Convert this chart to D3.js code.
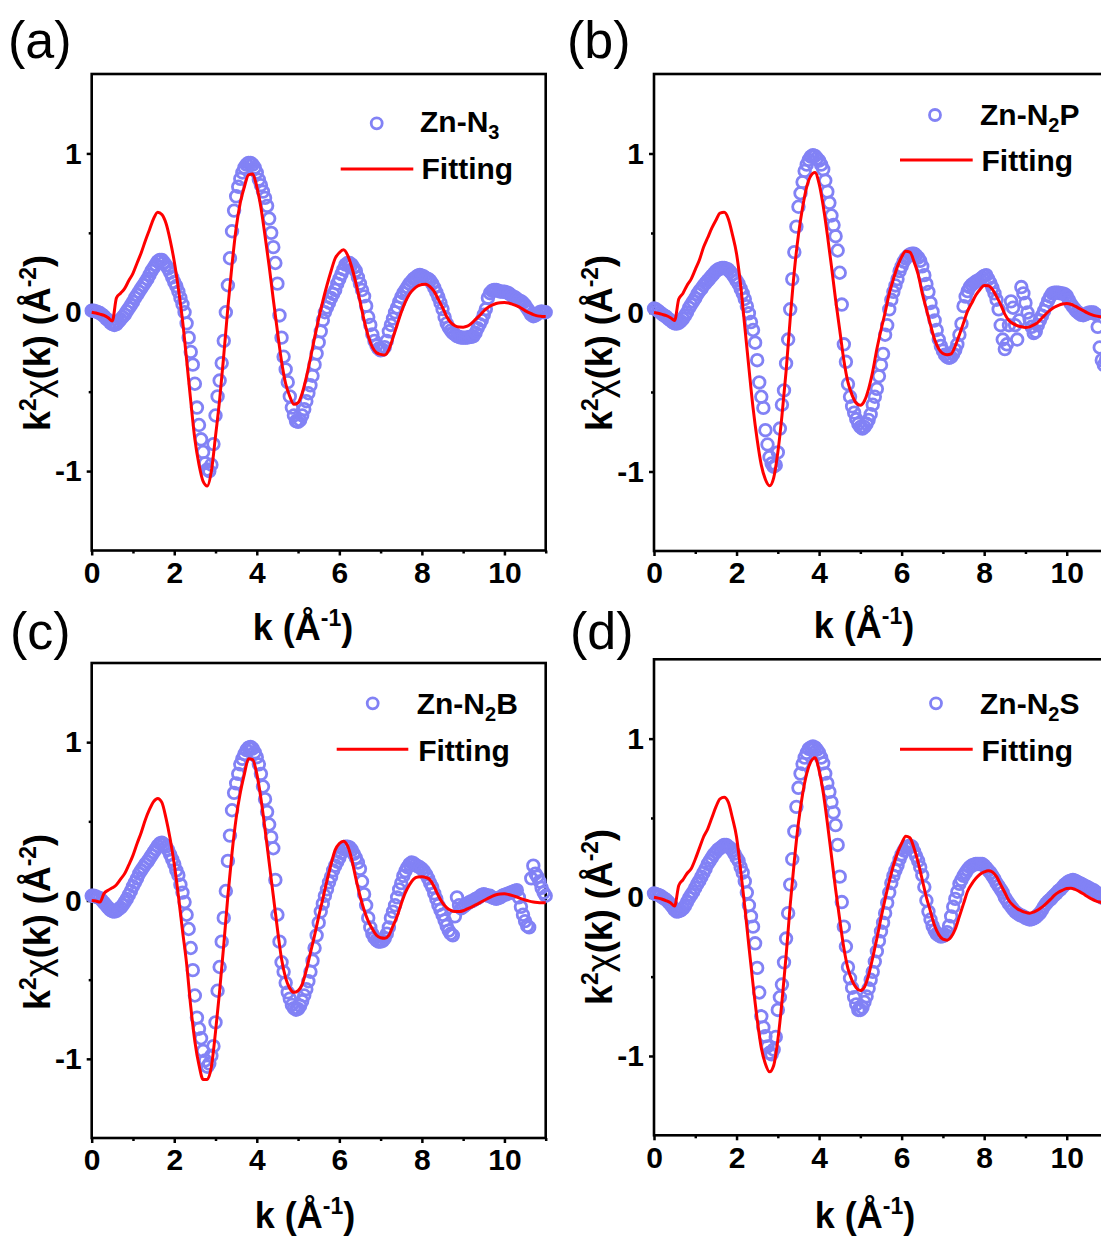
<!DOCTYPE html>
<html><head><meta charset="utf-8">
<script src="https://cdn.jsdelivr.net/npm/d3@7"></script>
<style>body{margin:0;background:#fff}svg{display:block}</style>
</head><body>
<script>
// ---------- DATA ----------
// experimental k grid: 0..11 step 0.05 ; fit grid: 0..11 step 0.1
const kExp = d3.range(221).map(i => +(i * 0.05).toFixed(2));
const kFit = d3.range(111).map(i => +(i * 0.1).toFixed(1));

const xTicks = [0, 2, 4, 6, 8, 10];
const xMinor = [1, 3, 5, 7, 9, 11];
const yTicks = [-1, 0, 1];
const yMinor = [-0.5, 0.5];

const zn_n3_exp = [
0.01,0.01,0.005,0,-0.005,-0.015,-0.025,-0.04,-0.05,-0.065,-0.075,-0.08,-0.075,-0.06,-0.045,-0.03,-0.015,0.005,0.025,0.045,
0.065,0.09,0.11,0.13,0.15,0.17,0.19,0.21,0.235,0.26,0.28,0.30,0.32,0.33,0.33,0.315,0.295,0.275,0.25,0.22,
0.19,0.165,0.13,0.09,0.05,0,-0.07,-0.16,-0.25,-0.33,-0.45,-0.60,-0.71,-0.80,-0.88,-0.95,-0.99,-1.0,-0.96,-0.83,
-0.65,-0.53,-0.43,-0.32,-0.18,0,0.17,0.34,0.51,0.64,0.73,0.79,0.84,0.88,0.91,0.93,0.94,0.94,0.93,0.91,
0.88,0.835,0.80,0.76,0.72,0.67,0.59,0.50,0.41,0.31,0.18,-0.02,-0.16,-0.28,-0.36,-0.44,-0.53,-0.60,-0.65,-0.685,
-0.69,-0.68,-0.65,-0.61,-0.56,-0.51,-0.46,-0.40,-0.33,-0.26,-0.19,-0.12,-0.05,0,0.03,0.06,0.09,0.115,0.14,0.18,
0.21,0.24,0.27,0.30,0.31,0.31,0.30,0.28,0.26,0.22,0.18,0.14,0.10,0.04,-0.03,-0.08,-0.14,-0.18,-0.21,-0.23,
-0.24,-0.235,-0.22,-0.18,-0.12,-0.08,-0.04,0,0.03,0.065,0.095,0.12,0.14,0.16,0.18,0.195,0.21,0.22,0.23,0.235,
0.23,0.225,0.215,0.21,0.20,0.18,0.155,0.125,0.095,0.06,0.02,-0.03,-0.07,-0.095,-0.115,-0.13,-0.14,-0.15,-0.155,-0.16,
-0.16,-0.16,-0.16,-0.155,-0.155,-0.15,-0.13,-0.10,-0.075,-0.05,-0.015,0.02,0.09,0.12,0.135,0.14,0.14,0.135,0.13,0.13,
0.13,0.125,0.12,0.11,0.10,0.095,0.085,0.075,0.07,0.06,0.045,0.025,0.005,-0.015,-0.025,-0.02,-0.01,0,0.005,0,
0];
const zn_n3_fit = [
0,-0.005,-0.012,-0.02,-0.035,-0.055,0.09,0.12,0.15,0.2,
0.245,0.31,0.375,0.45,0.52,0.59,0.63,0.615,0.56,0.455,
0.32,0.15,-0.05,-0.30,-0.56,-0.80,-0.96,-1.065,-1.094,-1.0,
-0.78,-0.55,-0.27,0.03,0.30,0.53,0.69,0.79,0.865,0.87,
0.79,0.66,0.48,0.29,0.08,-0.12,-0.31,-0.45,-0.53,-0.58,
-0.57,-0.51,-0.41,-0.29,-0.16,-0.04,0.07,0.17,0.26,0.34,
0.375,0.393,0.36,0.285,0.185,0.07,-0.05,-0.15,-0.22,-0.255,
-0.265,-0.269,-0.235,-0.16,-0.08,0,0.065,0.115,0.145,0.165,
0.175,0.177,0.16,0.13,0.08,0.03,-0.027,-0.065,-0.085,-0.093,
-0.094,-0.088,-0.07,-0.045,-0.02,0.008,0.03,0.045,0.055,0.06,
0.061,0.058,0.05,0.04,0.027,0.01,-0.003,-0.015,-0.023,-0.026,
-0.027];

const zn_n2p_exp = [
0.025,0.02,0.01,0,-0.01,-0.02,-0.027,-0.04,-0.05,-0.06,-0.068,-0.07,-0.065,-0.055,-0.04,-0.02,0,0.03,0.05,0.07,
0.09,0.115,0.135,0.15,0.17,0.185,0.2,0.215,0.23,0.245,0.26,0.27,0.275,0.28,0.28,0.275,0.27,0.255,0.24,0.22,
0.2,0.18,0.15,0.12,0.085,0.04,-0.005,-0.06,-0.11,-0.19,-0.30,-0.44,-0.53,-0.60,-0.74,-0.83,-0.91,-0.95,-0.97,-0.96,
-0.88,-0.73,-0.58,-0.49,-0.32,-0.17,0.02,0.21,0.38,0.54,0.665,0.75,0.82,0.89,0.93,0.96,0.98,0.99,0.985,0.97,
0.955,0.93,0.90,0.83,0.76,0.69,0.61,0.55,0.48,0.39,0.25,0.05,-0.2,-0.31,-0.45,-0.53,-0.59,-0.63,-0.67,-0.70,
-0.72,-0.73,-0.72,-0.70,-0.675,-0.64,-0.58,-0.53,-0.48,-0.40,-0.33,-0.26,-0.14,-0.08,0.02,0.08,0.13,0.17,0.21,0.26,
0.29,0.32,0.34,0.355,0.365,0.37,0.37,0.36,0.345,0.325,0.29,0.235,0.18,0.13,0.06,0.005,-0.05,-0.11,-0.17,-0.21,
-0.24,-0.265,-0.28,-0.285,-0.28,-0.26,-0.235,-0.2,-0.14,-0.07,0.04,0.1,0.135,0.16,0.175,0.185,0.195,0.2,0.21,0.22,
0.23,0.235,0.21,0.185,0.155,0.12,0.08,0.02,-0.08,-0.17,-0.23,-0.2,-0.08,0.07,0.03,-0.08,-0.17,-0.05,0.16,0.12,
0.06,0,-0.04,-0.09,-0.13,-0.12,-0.08,-0.05,-0.02,0.01,0.04,0.075,0.1,0.12,0.125,0.125,0.125,0.12,0.12,0.115,
0.105,0.08,0.055,0.036,0.02,0.005,-0.005,-0.015,-0.017,-0.012,-0.005,0,0,0,-0.01,-0.09,-0.22,-0.3,-0.33,-0.3,
-0.25];
const zn_n2p_fit = [
0,-0.005,-0.012,-0.02,-0.033,-0.05,0.085,0.12,0.17,0.21,
0.27,0.33,0.41,0.47,0.53,0.58,0.625,0.63,0.59,0.49,
0.37,0.17,-0.09,-0.35,-0.60,-0.80,-0.96,-1.05,-1.09,-1.04,
-0.88,-0.65,-0.37,-0.04,0.26,0.49,0.66,0.79,0.86,0.88,
0.81,0.67,0.49,0.29,0.08,-0.11,-0.30,-0.44,-0.52,-0.57,
-0.584,-0.555,-0.48,-0.37,-0.23,-0.11,0,0.12,0.21,0.29,
0.35,0.385,0.38,0.32,0.24,0.12,0.02,-0.08,-0.17,-0.23,
-0.258,-0.266,-0.26,-0.21,-0.14,-0.065,0.01,0.06,0.11,0.145,
0.17,0.168,0.145,0.1,0.05,-0.01,-0.05,-0.07,-0.082,-0.09,
-0.094,-0.09,-0.078,-0.062,-0.035,-0.008,0.015,0.033,0.045,0.053,
0.057,0.052,0.04,0.026,0.012,-0.002,-0.013,-0.021,-0.026,-0.03,
-0.032];

const zn_n2b_exp = [
0.03,0.03,0.025,0.02,0.015,0,-0.015,-0.03,-0.045,-0.06,-0.068,-0.07,-0.065,-0.055,-0.045,-0.03,-0.01,0.01,0.035,0.06,
0.09,0.115,0.14,0.17,0.19,0.21,0.23,0.245,0.265,0.285,0.305,0.325,0.345,0.36,0.365,0.355,0.34,0.32,0.29,0.26,
0.23,0.19,0.16,0.10,0.05,-0.01,-0.09,-0.18,-0.30,-0.44,-0.60,-0.74,-0.81,-0.87,-0.95,-1.01,-1.05,-1.03,-0.98,-0.92,
-0.77,-0.57,-0.42,-0.26,-0.11,0.06,0.25,0.41,0.57,0.68,0.74,0.80,0.86,0.895,0.925,0.95,0.965,0.97,0.96,0.935,
0.905,0.86,0.80,0.72,0.64,0.56,0.48,0.40,0.33,0.13,-0.09,-0.26,-0.39,-0.45,-0.52,-0.58,-0.62,-0.66,-0.68,-0.69,
-0.685,-0.665,-0.635,-0.60,-0.56,-0.51,-0.45,-0.38,-0.30,-0.22,-0.14,-0.07,-0.02,0.03,0.07,0.115,0.15,0.19,0.22,0.245,
0.27,0.30,0.325,0.34,0.34,0.335,0.32,0.295,0.27,0.24,0.20,0.12,0.04,-0.03,-0.11,-0.17,-0.21,-0.235,-0.25,-0.26,
-0.26,-0.255,-0.24,-0.21,-0.17,-0.11,-0.07,-0.03,0.02,0.07,0.11,0.155,0.185,0.21,0.23,0.24,0.235,0.225,0.215,0.21,
0.20,0.185,0.165,0.14,0.11,0.085,0.045,0.01,-0.03,-0.06,-0.09,-0.125,-0.16,-0.19,-0.21,-0.22,-0.1,0.02,-0.03,-0.05,
-0.04,-0.03,-0.02,-0.01,-0.005,0,0.01,0.015,0.025,0.035,0.04,0.035,0.03,0.03,0.02,0.015,0.01,0.015,0.02,0.03,
0.035,0.04,0.045,0.05,0.055,0.06,0.065,0.02,-0.04,-0.09,-0.13,-0.16,-0.17,0.14,0.22,0.17,0.15,0.12,0.08,0.05,
0.03];
const zn_n2b_fit = [
0,-0.003,-0.01,0.045,0.065,0.08,0.1,0.135,0.17,0.225,
0.285,0.36,0.43,0.51,0.575,0.625,0.645,0.62,0.52,0.39,
0.23,0.03,-0.19,-0.4,-0.67,-0.89,-1.04,-1.13,-1.13,-1.05,
-0.83,-0.57,-0.28,0.03,0.30,0.52,0.68,0.80,0.895,0.89,
0.80,0.645,0.45,0.24,0.03,-0.18,-0.37,-0.49,-0.555,-0.58,
-0.57,-0.53,-0.44,-0.33,-0.22,-0.1,0.01,0.125,0.23,0.32,
0.36,0.375,0.345,0.26,0.14,0.03,-0.06,-0.13,-0.18,-0.22,
-0.235,-0.238,-0.22,-0.16,-0.1,-0.02,0.05,0.1,0.135,0.148,
0.15,0.145,0.13,0.085,0.03,-0.015,-0.045,-0.063,-0.07,-0.07,
-0.065,-0.053,-0.042,-0.028,-0.015,0,0.014,0.026,0.036,0.041,
0.042,0.038,0.031,0.022,0.012,0.003,-0.004,-0.009,-0.012,-0.014,
-0.015];

const zn_n2s_exp = [
0.025,0.02,0.015,0.01,0,-0.008,-0.017,-0.03,-0.045,-0.06,-0.08,-0.09,-0.088,-0.082,-0.072,-0.055,-0.03,-0.005,0.015,0.035,
0.06,0.085,0.105,0.13,0.155,0.18,0.21,0.23,0.25,0.27,0.285,0.3,0.31,0.32,0.33,0.33,0.32,0.31,0.295,0.275,
0.25,0.23,0.19,0.155,0.1,0.03,-0.05,-0.12,-0.185,-0.29,-0.445,-0.6,-0.75,-0.82,-0.875,-0.94,-0.98,-0.99,-0.96,-0.88,
-0.71,-0.63,-0.55,-0.41,-0.26,-0.1,0.08,0.24,0.415,0.57,0.69,0.78,0.84,0.88,0.91,0.935,0.945,0.95,0.945,0.93,
0.91,0.88,0.845,0.78,0.72,0.665,0.6,0.535,0.455,0.33,0.13,-0.03,-0.185,-0.31,-0.44,-0.51,-0.57,-0.63,-0.675,-0.71,
-0.71,-0.695,-0.66,-0.625,-0.575,-0.52,-0.47,-0.405,-0.34,-0.275,-0.215,-0.16,-0.1,-0.035,0.03,0.09,0.135,0.17,0.2,0.24,
0.27,0.295,0.315,0.32,0.325,0.32,0.29,0.26,0.23,0.19,0.14,0.065,-0.02,-0.09,-0.14,-0.18,-0.21,-0.23,-0.24,-0.248,
-0.245,-0.235,-0.22,-0.18,-0.12,-0.06,-0.01,0.035,0.085,0.11,0.135,0.155,0.175,0.19,0.2,0.205,0.21,0.21,0.21,0.21,
0.2,0.185,0.17,0.155,0.135,0.115,0.09,0.07,0.05,0.03,0,-0.02,-0.04,-0.058,-0.075,-0.09,-0.1,-0.11,-0.115,-0.12,
-0.13,-0.135,-0.14,-0.138,-0.133,-0.125,-0.112,-0.1,-0.08,-0.058,-0.04,-0.025,-0.015,0,0.013,0.025,0.04,0.05,0.065,0.08,
0.09,0.1,0.105,0.11,0.105,0.098,0.09,0.085,0.078,0.07,0.065,0.058,0.05,0.045,0.035,0.025,0.01,0,-0.005,-0.01,
-0.015];
const zn_n2s_fit = [
0,-0.005,-0.012,-0.022,-0.035,-0.055,0.075,0.11,0.15,0.18,
0.24,0.31,0.38,0.43,0.5,0.57,0.62,0.63,0.6,0.5,
0.38,0.17,-0.06,-0.31,-0.55,-0.77,-0.95,-1.05,-1.1,-1.06,
-0.9,-0.66,-0.37,-0.05,0.23,0.47,0.65,0.78,0.855,0.88,
0.8,0.66,0.47,0.26,0.05,-0.14,-0.32,-0.45,-0.525,-0.57,
-0.588,-0.565,-0.49,-0.38,-0.26,-0.13,-0.01,0.1,0.2,0.28,
0.34,0.385,0.375,0.31,0.22,0.11,0,-0.09,-0.18,-0.235,
-0.264,-0.27,-0.25,-0.2,-0.12,-0.04,0.04,0.085,0.12,0.145,
0.16,0.168,0.16,0.13,0.08,0.03,-0.02,-0.05,-0.072,-0.085,
-0.095,-0.1,-0.093,-0.08,-0.062,-0.04,-0.015,0.012,0.032,0.045,
0.055,0.057,0.05,0.037,0.022,0.005,-0.01,-0.022,-0.03,-0.035,
-0.038];

const panelLabels = ['(a)', '(b)', '(c)', '(d)'];
const sampleNames = [['Zn-N', '3', ''], ['Zn-N', '2', 'P'], ['Zn-N', '2', 'B'], ['Zn-N', '2', 'S']];
const fitLabel = 'Fitting';

// ---------- LAYOUT ----------
const FONT = "'Liberation Sans', Arial, Helvetica, sans-serif";
const BLUE = '#8282f5', RED = '#ff0000';
const layout = [
  {box:[91.7, 74, 454, 476.5], lab:[8, 58], leg:[376.7, 123.3, 420, 132, 340.7, 413.3, 169, 179], xt:[303, 640], yt:[50, 343]},
  {box:[654, 74, 454, 477],    lab:[567, 58], leg:[935, 115, 980, 125, 900, 972.7, 160, 171], xt:[864, 638], yt:[612, 343]},
  {box:[91.7, 663, 454, 475],  lab:[10, 649], leg:[372.7, 703.3, 416.7, 714, 336.7, 408.3, 749.3, 761], xt:[305, 1228], yt:[50, 922]},
  {box:[654, 659.3, 454, 476], lab:[570, 649], leg:[936, 703.3, 980, 714, 900, 972.7, 749.3, 761], xt:[865, 1228], yt:[612, 917]}
];
const exps = [zn_n3_exp, zn_n2p_exp, zn_n2b_exp, zn_n2s_exp];
const fits = [zn_n3_fit, zn_n2p_fit, zn_n2b_fit, zn_n2s_fit];

const svg = d3.select('body').append('svg').attr('width', 1101).attr('height', 1238)
  .style('font-family', FONT);

layout.forEach((L, i) => {
  const [x0, y0, w, h] = L.box;
  const x = d3.scaleLinear().domain([0, 11]).range([x0, x0 + w]);
  const y = d3.scaleLinear().domain([-1.5, 1.5]).range([y0 + h, y0]);
  const g = svg.append('g');

  // panel label
  svg.append('text').attr('x', L.lab[0]).attr('y', L.lab[1]).attr('font-size', 52)
    .attr('font-weight', 'normal').text(panelLabels[i]);

  // axes (major + minor)
  const xa = g.append('g').attr('transform', `translate(0,${y0 + h})`)
    .call(d3.axisBottom(x).tickValues(xTicks).tickSize(5).tickPadding(6).tickFormat(d => String(d)));
  const xm = g.append('g').attr('transform', `translate(0,${y0 + h})`)
    .call(d3.axisBottom(x).tickValues(xMinor).tickSize(3).tickFormat(''));
  const ya = g.append('g').attr('transform', `translate(${x0},0)`)
    .call(d3.axisLeft(y).tickValues(yTicks).tickSize(5).tickPadding(5).tickFormat(d => String(d)));
  const ym = g.append('g').attr('transform', `translate(${x0},0)`)
    .call(d3.axisLeft(y).tickValues(yMinor).tickSize(3).tickFormat(''));
  [xa, xm, ya, ym].forEach(a => {
    a.select('.domain').remove();
    a.selectAll('line').attr('stroke', '#000').attr('stroke-width', 2.5);
    a.selectAll('text').attr('font-size', 30).attr('font-weight', 'bold').attr('fill', '#000')
      .style('font-family', FONT);
  });

  // frame
  g.append('rect').attr('x', x0).attr('y', y0).attr('width', w).attr('height', h)
    .attr('fill', 'none').attr('stroke', '#000').attr('stroke-width', 2.6);

  // experimental data (open circles)
  g.append('g').selectAll('circle').data(exps[i]).join('circle')
    .attr('cx', (d, j) => x(kExp[j])).attr('cy', d => y(d)).attr('r', 5.8)
    .attr('fill', 'none').attr('stroke', BLUE).attr('stroke-width', 2.8);

  // fit line
  g.append('path').datum(fits[i])
    .attr('d', d3.line().x((d, j) => x(kFit[j])).y(d => y(d)).curve(d3.curveMonotoneX))
    .attr('fill', 'none').attr('stroke', RED).attr('stroke-width', 3);

  // legend
  const [cx, cy, tx, ty1, lx0, lx1, ly, ty2] = L.leg;
  g.append('circle').attr('cx', cx).attr('cy', cy).attr('r', 5.5)
    .attr('fill', 'none').attr('stroke', BLUE).attr('stroke-width', 2.8);
  const t1 = g.append('text').attr('x', tx).attr('y', ty1).attr('font-size', 30).attr('font-weight', 'bold');
  t1.append('tspan').text(sampleNames[i][0]);
  t1.append('tspan').attr('font-size', 20).attr('dy', 7).text(sampleNames[i][1]);
  if (sampleNames[i][2]) t1.append('tspan').attr('dy', -7).text(sampleNames[i][2]);
  g.append('line').attr('x1', lx0).attr('x2', lx1).attr('y1', ly).attr('y2', ly)
    .attr('stroke', RED).attr('stroke-width', 3);
  g.append('text').attr('x', tx + 1.5).attr('y', ty2).attr('font-size', 30).attr('font-weight', 'bold').text(fitLabel);

  // x title
  const xt = g.append('text').attr('x', L.xt[0]).attr('y', L.xt[1]).attr('text-anchor', 'middle')
    .attr('font-size', 36).attr('font-weight', 'bold');
  xt.append('tspan').text('k (Å');
  xt.append('tspan').attr('font-size', 23).attr('dy', -14).text('-1');
  xt.append('tspan').attr('dy', 14).text(')');

  // y title
  const yt = g.append('text').attr('transform', `translate(${L.yt[0]},${L.yt[1]}) rotate(-90)`)
    .attr('text-anchor', 'middle').attr('font-size', 36).attr('font-weight', 'bold');
  yt.append('tspan').text('k');
  yt.append('tspan').attr('font-size', 23).attr('dy', -14).text('2');
  yt.append('tspan').attr('dy', 14).attr('font-weight', 'normal').text('χ');
  yt.append('tspan').text('(k) (Å');
  yt.append('tspan').attr('font-size', 23).attr('dy', -14).text('-2');
  yt.append('tspan').attr('dy', 14).text(')');
});
</script>
</body></html>
